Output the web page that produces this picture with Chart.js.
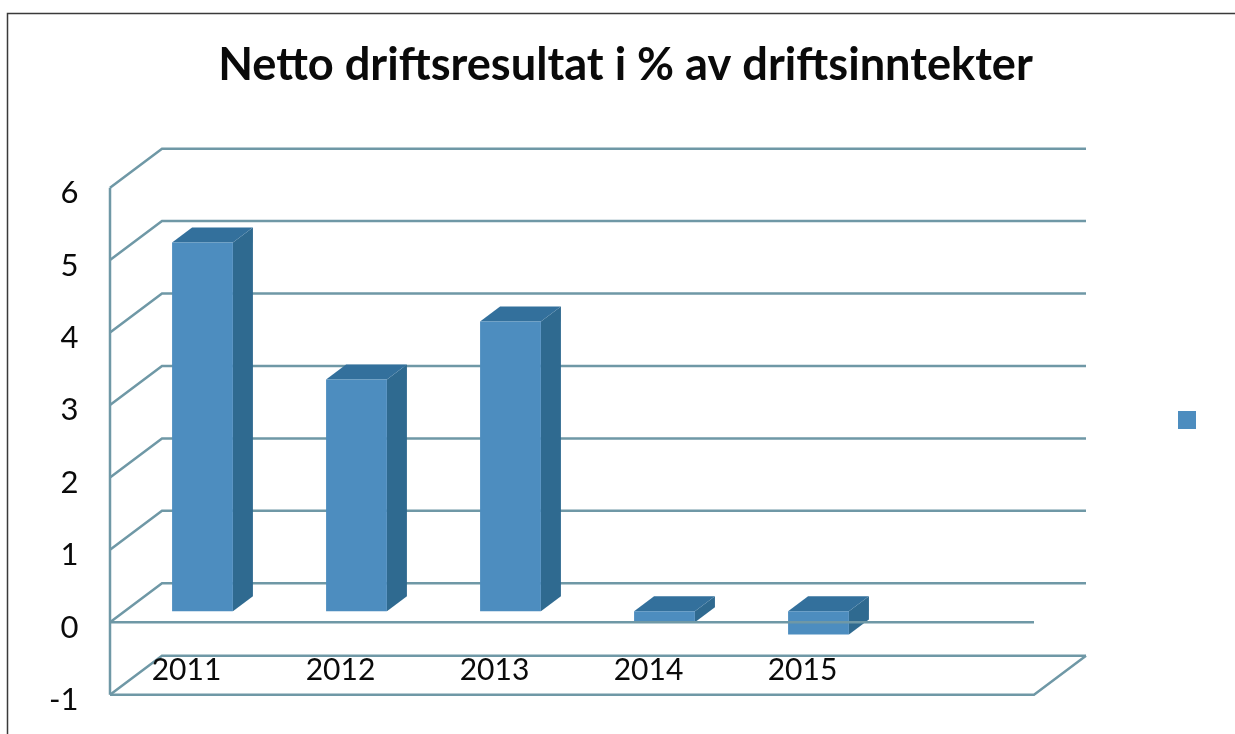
<!DOCTYPE html>
<html><head><meta charset="utf-8">
<style>html,body{margin:0;padding:0;background:#fff}canvas{display:block}</style>
<script src="https://cdn.jsdelivr.net/npm/chart.js@4"></script>
</head><body>
<canvas id="c" width="1235" height="734"></canvas>
<script>
const categories = ["2011","2012","2013","2014","2015",""];
const values = [5.09,3.2,4.0,-0.15,-0.32,null];
const titleText = "Netto driftsresultat i % av driftsinntekter";
const yMin = -1, yMax = 6;

const FRONT = {dx:-15.5, dy:11};   // front plane relative to bar plane
const BACK  = {dx:36.5, dy:-28};   // back wall relative to bar plane
const DEPTH = {dx:20, dy:-15};     // bar depth
const GRID = '#6f98a6', FACE = '#4d8dbf', SIDE = '#2f6a90', TOP = '#33709c';

function line(ctx, pts, color, w){
  ctx.beginPath(); ctx.strokeStyle=color; ctx.lineWidth=w; ctx.lineJoin='miter';
  pts.forEach((p,i)=> i?ctx.lineTo(p[0],p[1]):ctx.moveTo(p[0],p[1])); ctx.stroke();
}
function poly(ctx, pts, color){
  ctx.beginPath(); ctx.fillStyle=color;
  pts.forEach((p,i)=> i?ctx.lineTo(p[0],p[1]):ctx.moveTo(p[0],p[1])); ctx.closePath(); ctx.fill();
}
const box3d = {
  id:'box3d',
  beforeDraw(chart){
    const {ctx, chartArea:a, scales:{y}} = chart;
    ctx.save();
    line(ctx,[[7.5,734],[7.5,13.5],[1235,13.5]],'#3a3a3a',1.5);
    const fx=a.left+FRONT.dx, bx=a.left+BACK.dx, bxr=a.right+BACK.dx, fxr=a.right+FRONT.dx;
    for(let v=yMin;v<=yMax;v++){
      const p=y.getPixelForValue(v);
      line(ctx,[[fx,p+FRONT.dy],[bx,p+BACK.dy],[bxr,p+BACK.dy]],GRID,2.5);
    }
    line(ctx,[[fx,y.getPixelForValue(yMax)+FRONT.dy],[fx,y.getPixelForValue(yMin)+FRONT.dy]],GRID,2.5);
    const bot=y.getPixelForValue(yMin);
    line(ctx,[[fx,bot+FRONT.dy],[fxr,bot+FRONT.dy],[bxr,bot+BACK.dy]],GRID,2.5);
    ctx.restore();
  },
  beforeDatasetsDraw(chart){
    const {ctx} = chart;
    chart.getDatasetMeta(0).data.forEach((b,i)=>{
      if(values[i]==null) return;
      const p=b.getProps(['x','y','base','width'],true);
      const l=p.x-p.width/2, r=p.x+p.width/2, t=Math.min(p.y,p.base), d=Math.max(p.y,p.base);
      poly(ctx,[[r,t],[r+DEPTH.dx,t+DEPTH.dy],[r+DEPTH.dx,d+DEPTH.dy],[r,d]],SIDE);
      poly(ctx,[[l,t],[l+DEPTH.dx,t+DEPTH.dy],[r+DEPTH.dx,t+DEPTH.dy],[r,t]],TOP);
    });
  },
  afterDatasetsDraw(chart){
    const {ctx, chartArea:a, scales:{y}} = chart;
    const p=y.getPixelForValue(0)+FRONT.dy;
    line(ctx,[[a.left+FRONT.dx,p],[a.right+FRONT.dx,p]],GRID,2.5);
  }
};
function noPad(s){s.paddingLeft=s.paddingRight=s.paddingTop=s.paddingBottom=0;}
new Chart(document.getElementById('c'),{
  type:'bar',
  data:{labels:categories,datasets:[{label:'',data:values,backgroundColor:FACE,borderWidth:0,barPercentage:0.395,categoryPercentage:1}]},
  plugins:[box3d],
  options:{
    responsive:false,animation:false,
    layout:{padding:{left:39,right:23,top:0,bottom:0}},
    plugins:{
      tooltip:{enabled:false},
      title:{display:true,text:titleText,color:'#0a0a0a',font:{family:'Lato',weight:'bold',size:45.2},padding:{top:38,bottom:84.4}},
      legend:{display:true,position:'right',align:'start',maxWidth:185.5,
        title:{display:true,text:'',padding:{top:268.1,bottom:0},font:{size:12}},
        labels:{boxWidth:18,boxHeight:18,padding:128.5,color:'#111',font:{size:12}}}
    },
    scales:{
      x:{grid:{display:false},border:{display:false},
        afterFit(s){s.height=50.3;noPad(s);},
        ticks:{color:'#0a0a0a',font:{family:'Lato',size:30},mirror:true,padding:-5,labelOffset:-16,maxRotation:0,autoSkip:false}},
      y:{min:yMin,max:yMax,grid:{display:false},border:{display:false},
        afterFit(s){s.width=86.5;noPad(s);},
        ticks:{stepSize:1,color:'#0a0a0a',font:{family:'Lato',size:31},padding:39,labelOffset:16.5}}
    }
  }
});
</script>
</body></html>
